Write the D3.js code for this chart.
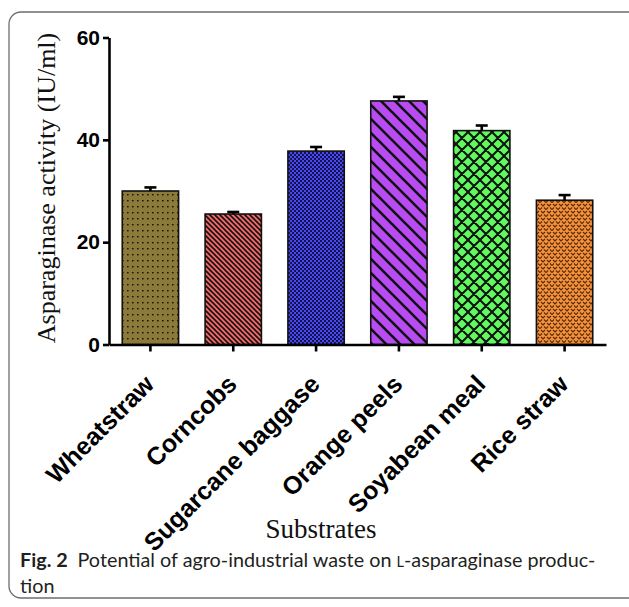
<!DOCTYPE html>
<html>
<head>
<meta charset="utf-8">
<script src="https://cdn.jsdelivr.net/npm/d3@7"></script>
<style>
  html, body { margin: 0; padding: 0; background: #fff; }
  svg { display: block; }
</style>
</head>
<body>
<script>
// Substrates tested and their L-asparaginase activity (IU/ml), mean and error
const categories = ["Wheatstraw", "Corncobs", "Sugarcane baggase", "Orange peels", "Soyabean meal", "Rice straw"];
const activity = [30.0, 25.5, 37.8, 47.6, 41.8, 28.2];
const errors = [0.7, 0.4, 0.8, 0.8, 1.0, 1.0];
const yTicks = [0, 20, 40, 60];
const fills = ["#8c7a3a", "#f86868", "#4848f6", "#b84cf2", "#5efa5e", "#f5923e"];
const patternIds = ["pDots", "pFine", "pCheck", "pWide", "pCross", "pHearts"];

const W = 629, H = 607;
const svg = d3.select("body").append("svg").attr("width", W).attr("height", H);

// rounded figure frame
svg.append("rect")
  .attr("x", 9).attr("y", 12).attr("width", 640).attr("height", 586)
  .attr("rx", 12).attr("ry", 12)
  .attr("fill", "none").attr("stroke", "#6e6e6e").attr("stroke-width", 1.3);

// fill patterns
const defs = svg.append("defs");
function pattern(id, w, h, bg) {
  const p = defs.append("pattern").attr("id", id)
    .attr("patternUnits", "userSpaceOnUse").attr("width", w).attr("height", h);
  p.append("rect").attr("width", w).attr("height", h).attr("fill", bg);
  return p;
}
// fine dots
let p = pattern("pDots", 5, 6, fills[0]);
p.append("rect").attr("x", 2).attr("y", 2).attr("width", 1.6).attr("height", 1.4).attr("fill", "#1a1405");
// fine diagonal lines
p = pattern("pFine", 5, 5, fills[1]);
p.append("path").attr("d", "M-1,-1 L6,6 M-1,4 L1,6 M4,-1 L6,1").attr("stroke", "#111").attr("stroke-width", 1.6);
// checkerboard
p = pattern("pCheck", 4, 4, fills[2]);
p.append("rect").attr("x", 0).attr("y", 0).attr("width", 2).attr("height", 2).attr("fill", "#14144a");
p.append("rect").attr("x", 2).attr("y", 2).attr("width", 2).attr("height", 2).attr("fill", "#14144a");
// wide diagonal lines
p = pattern("pWide", 14, 14, fills[3]);
p.append("path").attr("d", "M-2,-2 L16,16 M-2,12 L2,16 M12,-2 L16,2").attr("stroke", "#111").attr("stroke-width", 2.6);
// cross hatch
p = pattern("pCross", 12, 12, fills[4]);
p.append("path").attr("d", "M-2,-2 L14,14 M-2,10 L2,14 M10,-2 L14,2 M14,-2 L-2,14 M2,-2 L-2,2 M14,10 L10,14")
  .attr("stroke", "#111").attr("stroke-width", 2);
// small dark marks
p = pattern("pHearts", 6, 7, fills[5]);
p.append("path").attr("d", "M1,1 L3,3 L5,1 M3,3 L3,3.6").attr("stroke", "#5a2a05").attr("stroke-width", 1.2).attr("fill", "none");
p.append("path").attr("d", "M-2,4.5 L0,6.5 L2,4.5 M4,4.5 L6,6.5 L8,4.5").attr("stroke", "#5a2a05").attr("stroke-width", 1.2).attr("fill", "none");

// scales
const y = d3.scaleLinear().domain([0, 60]).range([344.5, 37.5]);
const x = d3.scaleBand().domain(categories).range([109, 606]).paddingInner(0.32).paddingOuter(0.16);

// bars
const data = categories.map((c, i) => ({ c, v: activity[i], e: errors[i], pat: patternIds[i] }));
svg.append("g").selectAll("rect").data(data).join("rect")
  .attr("x", d => x(d.c)).attr("width", x.bandwidth())
  .attr("y", d => y(d.v)).attr("height", d => y(0) - y(d.v))
  .attr("fill", d => `url(#${d.pat})`)
  .attr("stroke", "#111").attr("stroke-width", 1.6);

// error bars (upper)
const eg = svg.append("g").attr("stroke", "#000").attr("stroke-width", 2.6);
eg.selectAll("line.v").data(data).join("line").attr("class", "v")
  .attr("x1", d => x(d.c) + x.bandwidth() / 2).attr("x2", d => x(d.c) + x.bandwidth() / 2)
  .attr("y1", d => y(d.v)).attr("y2", d => y(d.v + d.e));
eg.selectAll("line.c").data(data).join("line").attr("class", "c")
  .attr("x1", d => x(d.c) + x.bandwidth() / 2 - 6).attr("x2", d => x(d.c) + x.bandwidth() / 2 + 6)
  .attr("y1", d => y(d.v + d.e)).attr("y2", d => y(d.v + d.e));

// y axis
const ya = svg.append("g").attr("transform", "translate(109,0)")
  .call(d3.axisLeft(y).tickValues(yTicks).tickSize(6).tickSizeOuter(0).tickPadding(3));
ya.select(".domain").attr("stroke", "#000").attr("stroke-width", 2.6);
ya.selectAll(".tick line").attr("stroke", "#000").attr("stroke-width", 2.6);
ya.selectAll(".tick text")
  .attr("font-family", "Liberation Sans, Arial, sans-serif").attr("font-weight", "bold")
  .attr("font-size", 21).attr("fill", "#000");

// x axis
const xa = svg.append("g").attr("transform", `translate(0,${y(0)})`)
  .call(d3.axisBottom(x).tickSize(7).tickSizeOuter(0));
xa.select(".domain").attr("stroke", "#000").attr("stroke-width", 2.6);
xa.selectAll(".tick line").attr("stroke", "#000").attr("stroke-width", 2.6);
xa.selectAll(".tick text")
  .attr("font-family", "Liberation Sans, Arial, sans-serif").attr("font-weight", "bold")
  .attr("font-size", 25).attr("fill", "#000")
  .attr("text-anchor", "end").attr("x", 0).attr("y", 0).attr("dy", "0.35em")
  .attr("transform", "translate(-1,35) rotate(-45)");

// axis titles
svg.append("text")
  .attr("transform", "translate(55,188) rotate(-90)")
  .attr("text-anchor", "middle")
  .attr("font-family", "Liberation Serif, Times New Roman, serif").attr("font-size", 26)
  .attr("fill", "#111")
  .text("Asparaginase activity (IU/ml)");
svg.append("text")
  .attr("x", 321).attr("y", 538).attr("text-anchor", "middle")
  .attr("font-family", "Liberation Serif, Times New Roman, serif").attr("font-size", 27)
  .attr("fill", "#111")
  .text("Substrates");

// caption
const cap = svg.append("text")
  .attr("font-family", "Lato, Noto Sans, sans-serif").attr("font-size", 19.8).attr("fill", "#231f20");
const l1 = cap.append("tspan").attr("x", 20).attr("y", 567);
l1.append("tspan").attr("font-weight", "bold").text("Fig. 2");
l1.append("tspan").text("\u2002Potential of agro-industrial waste on ");
l1.append("tspan").attr("font-size", 14.5).text("L");
l1.append("tspan").text("-asparaginase produc-");
cap.append("tspan").attr("x", 20).attr("y", 593).text("tion");
</script>
</body>
</html>
